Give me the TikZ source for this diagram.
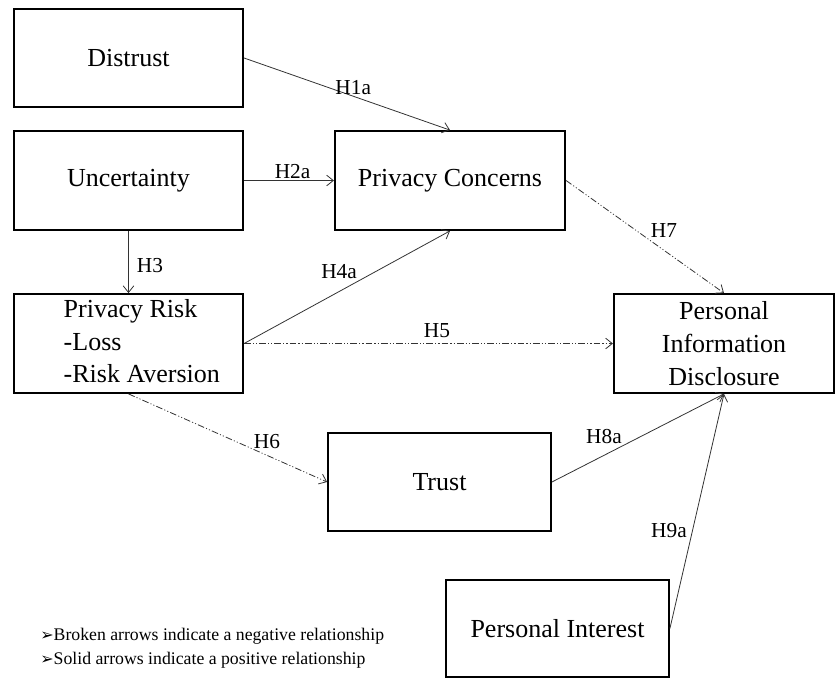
\documentclass[tikz,border=0pt]{standalone}
\usepackage{fontspec}
\setmainfont{Liberation Serif}
\newfontfamily\symfont{DejaVu Sans}
\usepackage{tikz}
\usetikzlibrary{arrows.meta}
\tikzset{
	var/.style = {draw, line width=1.6pt, align=center, inner sep=2pt,
		minimum width=171.75pt, minimum height=74pt,
		font=\fontsize{19.5}{24.5}\selectfont},% construct box
	pos_r/.style = {-{Straight Barb[length=5pt, width=8pt]}, draw=black!80, line width=0.6pt},% solid, positive path
	neg_r/.style = {pos_r, dash pattern=on 5pt off 1.6pt on 0.8pt off 1.6pt on 0.8pt off 1.6pt},% broken, negative path
	hyp/.style = {inner sep=1pt, font=\fontsize{16}{18}\selectfont}% hypothesis label
}

\begin{document}
\begin{tikzpicture}[x=0.75pt, y=-0.75pt]
	\useasboundingbox (0,0) rectangle (838,679);
	% constructs
	\node [var] (distrust) at (128.5,58) {Distrust};
	\node [var] (uncert) at (128.5,180.5) {Uncertainty};
	\node [var, minimum width=172.5pt] (concern) at (450,180.5) {Privacy Concerns};
	\node [var, inner ysep=0pt] (risk) at (128.5,343.5)
		{\hspace*{20pt}\raisebox{-3pt}{\begin{tabular}{@{}l@{}}Privacy Risk\\-Loss\\-Risk Aversion\end{tabular}}};
	\node [var, minimum width=165pt] (pid) at (724,343.5) {Personal\\Information\\Disclosure};
	\node [var, minimum width=167pt, minimum height=73.5pt] (trust) at (439.5,482) {Trust};
	\node [var, minimum width=167pt, minimum height=72.75pt] (interest) at (557.5,628.5) {Personal Interest};
	% hypotheses
	\draw [pos_r] (distrust.east) -- node[hyp, pos=.53, above] (h1a) {H1a} (concern.north);
	\draw [pos_r] (uncert.east) -- node[hyp, pos=.54, above] (h2a) {H2a} (concern.west);
	\draw [pos_r] (uncert.south) -- node[hyp, pos=.56, right=5pt] (h3) {H3} (risk.north);
	\draw [pos_r] (risk.east) -- node[hyp, pos=.556, anchor=south east] (h4a) {H4a} (concern.south);
	\draw [neg_r] (risk.east) -- node[hyp, pos=.523, above=3pt] (h5) {H5} (pid.west);
	\draw [neg_r] (risk.south) -- node[hyp, pos=.697, above=4pt] (h6) {H6} (trust.west);
	\draw [neg_r] (concern.east) -- node[hyp, pos=.62, above=8pt] (h7) {H7} (pid.north);
	\draw [pos_r] (trust.east) -- node[hyp, pos=.416, anchor=south east] (h8a) {H8a} (pid.south);
	\draw [pos_r] (interest.east) -- node[hyp, pos=.417, left=3pt] (h9a) {H9a} (pid.south);
	% key
	\node [anchor=west, align=left, inner sep=0pt, font=\fontsize{13.3}{18}\selectfont] (key) at (40,648)
		{{\symfont\fontsize{12}{18}\selectfont ➢}Broken arrows indicate a negative relationship\\
		{\symfont\fontsize{12}{18}\selectfont ➢}Solid arrows indicate a positive relationship};
\end{tikzpicture}
\end{document}
